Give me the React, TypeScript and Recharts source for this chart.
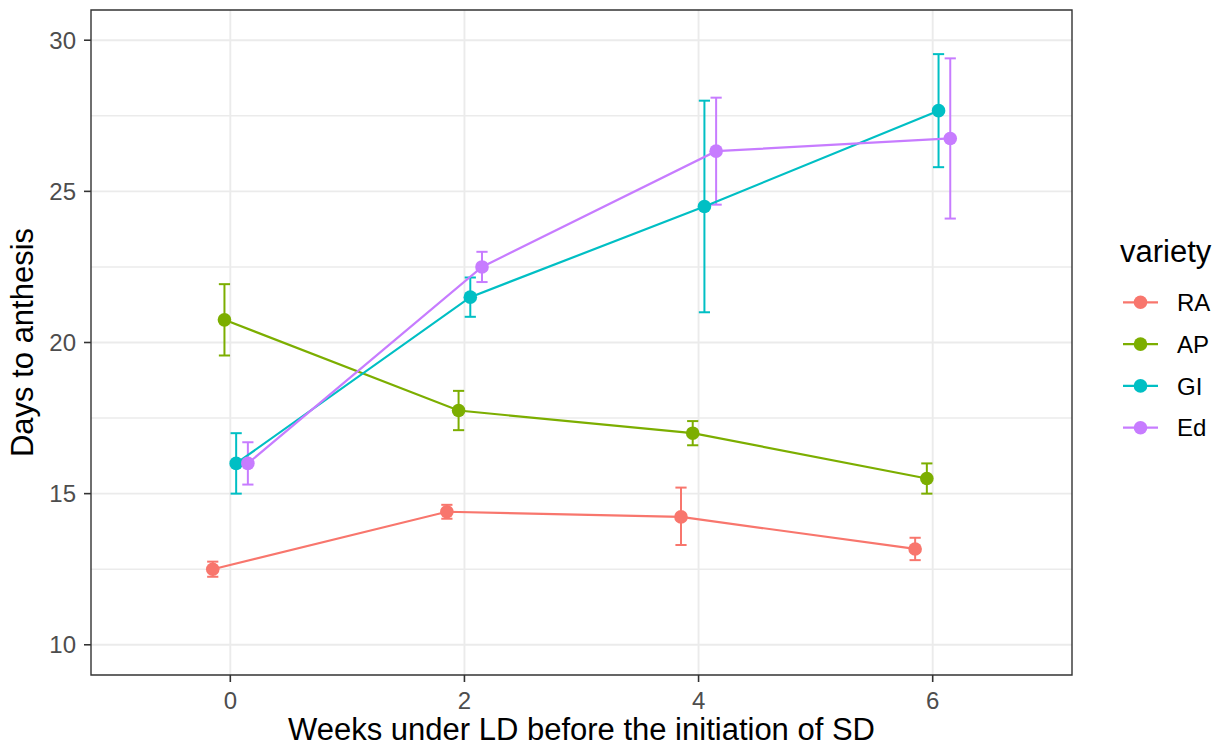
import { CartesianGrid, ComposedChart, ErrorBar, ReferenceArea, Scatter, XAxis, YAxis } from "recharts"

// weeks under long days before short days started
const weeks = [0, 2, 4, 6]
const varieties = ["RA", "AP", "GI", "Ed"]
const colors = ["#F8766D", "#7CAE00", "#00BFC4", "#C77CFF"]

// mean days to anthesis with lower / upper error bounds
const raMean = [12.5, 14.4, 14.23, 13.17]
const raLow = [12.25, 14.17, 13.3, 12.8]
const raHigh = [12.75, 14.63, 15.2, 13.54]

const apMean = [20.75, 17.75, 17.0, 15.5]
const apLow = [19.57, 17.1, 16.6, 15.0]
const apHigh = [21.93, 18.4, 17.4, 16.0]

const giMean = [16.0, 21.5, 24.5, 27.67]
const giLow = [15.0, 20.85, 21.0, 25.8]
const giHigh = [17.0, 22.15, 28.0, 29.54]

const edMean = [16.0, 22.5, 26.33, 26.75]
const edLow = [15.3, 22.0, 24.56, 24.1]
const edHigh = [16.7, 23.0, 28.1, 29.4]

const xTicks = [0, 2, 4, 6]
const yTicks = [10, 15, 20, 25, 30]
const yMinor = [12.5, 17.5, 22.5, 27.5]

const means = [raMean, apMean, giMean, edMean]
const lows = [raLow, apLow, giLow, edLow]
const highs = [raHigh, apHigh, giHigh, edHigh]

// horizontal dodge so the groups don't overlap at each week
const dodge = [-0.15, -0.05, 0.05, 0.15]

const series = varieties.map((name, i) => ({
  name,
  color: colors[i],
  points: weeks.map((w, j) => ({
    x: w + dodge[i],
    y: means[i][j],
    err: [means[i][j] - lows[i][j], highs[i][j] - means[i][j]],
  })),
}))

const FONT = '"Liberation Sans", Arial, Helvetica, sans-serif'

const Dot = (props: any) => <circle cx={props.cx} cy={props.cy} r={6.8} fill={props.fill} />

export default function App() {
  return (
    <div style={{ position: "absolute", left: 0, top: 0, width: 1220, height: 748, background: "#fff", fontFamily: FONT }}>
      <ComposedChart width={1220} height={748} margin={{ top: 10, right: 148, bottom: 0, left: 0 }}>
        <CartesianGrid horizontalValues={yMinor} vertical={false} stroke="#EBEBEB" strokeWidth={1.4} />
        <CartesianGrid horizontalValues={yTicks} verticalValues={xTicks} stroke="#EBEBEB" strokeWidth={1.9} />
        <XAxis
          type="number"
          dataKey="x"
          domain={[-1.19, 7.19]}
          ticks={xTicks}
          allowDataOverflow
          height={73}
          tickSize={7}
          tickMargin={10}
          axisLine={false}
          tickLine={{ stroke: "#333333", strokeWidth: 1.6 }}
          tick={{ fill: "#4D4D4D", fontSize: 24 }}
          label={{ value: "Weeks under LD before the initiation of SD", position: "insideBottom", offset: 8, fontSize: 31, fill: "#000" }}
        />
        <YAxis
          type="number"
          dataKey="y"
          domain={[9, 31]}
          ticks={yTicks}
          allowDataOverflow
          width={91}
          tickSize={7}
          tickMargin={8}
          axisLine={false}
          tickLine={{ stroke: "#333333", strokeWidth: 1.6 }}
          tick={{ fill: "#4D4D4D", fontSize: 24 }}
          label={{
            content: ({ viewBox }: any) => {
              const cx = viewBox.x + 33
              const cy = viewBox.y + viewBox.height / 2
              return (
                <text x={cx} y={cy} transform={`rotate(-90 ${cx} ${cy})`} textAnchor="middle" fontSize={31} fill="#000">
                  Days to anthesis
                </text>
              )
            },
          }}
        />
        <ReferenceArea x1={-1.19} x2={7.19} y1={9} y2={31} fill="none" stroke="#333333" strokeWidth={1.4} />
        {series.map((s) => (
          <Scatter
            key={s.name}
            name={s.name}
            data={s.points}
            fill={s.color}
            line={{ stroke: s.color, strokeWidth: 2.2 }}
            lineType="joint"
            shape={Dot}
            isAnimationActive={false}
          >
            <ErrorBar dataKey="err" direction="y" width={5.6} stroke={s.color} strokeWidth={2} isAnimationActive={false} />
          </Scatter>
        ))}
      </ComposedChart>

      {/* legend */}
      <svg width={1220} height={748} style={{ position: "absolute", left: 0, top: 0, pointerEvents: "none" }}>
        <text x={1120} y={262} fontSize={31} fill="#000">
          variety
        </text>
        {series.map((s, i) => {
          const cy = 302.3 + i * 41.8
          return (
            <g key={s.name}>
              <line x1={1123} x2={1158} y1={cy} y2={cy} stroke={s.color} strokeWidth={2.2} />
              <circle cx={1140.5} cy={cy} r={6.8} fill={s.color} />
              <text x={1177} y={cy + 8.6} fontSize={24} fill="#000">
                {s.name}
              </text>
            </g>
          )
        })}
      </svg>
    </div>
  )
}
